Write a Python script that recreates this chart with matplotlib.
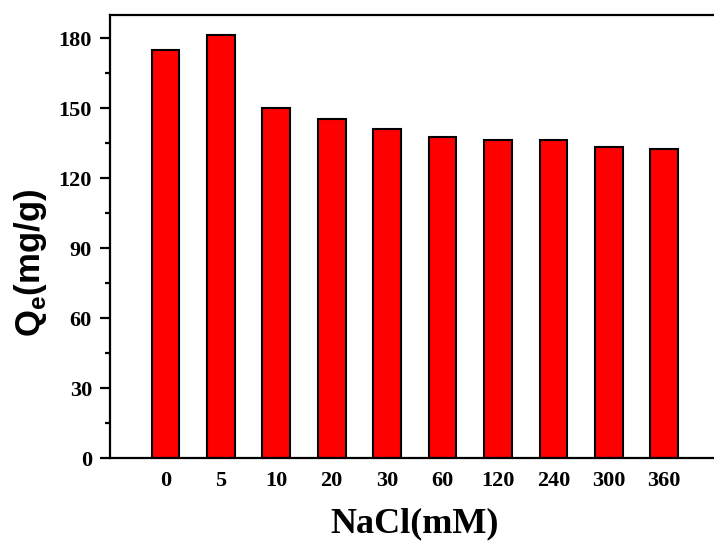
import matplotlib
matplotlib.use('Agg')
import matplotlib.pyplot as plt
from matplotlib.ticker import MultipleLocator

# NaCl concentration (mM) and adsorption capacity Qe (mg/g)
nacl = ['0', '5', '10', '20', '30', '60', '120', '240', '300', '360']
qe = [175.0, 181.4, 150.2, 145.6, 141.3, 137.5, 136.6, 136.3, 133.5, 132.7]

fig = plt.figure(figsize=(7.14, 5.44), dpi=100)
ax = fig.add_axes([0.154, 0.158, 0.854, 0.8143])

pos = list(range(len(nacl)))
ax.bar(pos, qe, width=0.5, color='#ff0000', edgecolor='black', linewidth=1.5)

ax.set_xlim(-1, 10)
ax.set_ylim(0, 190)
ax.set_xticks(pos)
ax.set_xticklabels(nacl)
ax.yaxis.set_major_locator(MultipleLocator(30))
ax.yaxis.set_minor_locator(MultipleLocator(15))

for s in ax.spines.values():
    s.set_linewidth(1.6)

ax.tick_params(axis='x', length=0, pad=9)
ax.tick_params(axis='y', which='major', direction='out', length=7, width=1.6, pad=6)
ax.tick_params(axis='y', which='minor', direction='out', length=3.5, width=1.6)

for lab in ax.get_xticklabels() + ax.get_yticklabels():
    lab.set_fontfamily('Liberation Serif')
    lab.set_fontweight('bold')
    lab.set_fontsize(16)

ax.set_xlabel('NaCl(mM)', fontfamily='Liberation Serif', fontweight='bold', fontsize=26)
ax.xaxis.set_label_coords(0.5, -0.112)
ax.set_ylabel(r'Q$_\mathregular{e}$(mg/g)', fontfamily='Liberation Sans', fontweight='bold', fontsize=25)
ax.yaxis.set_label_coords(-0.1, 0.44)

fig.savefig('out.png', dpi=100)
